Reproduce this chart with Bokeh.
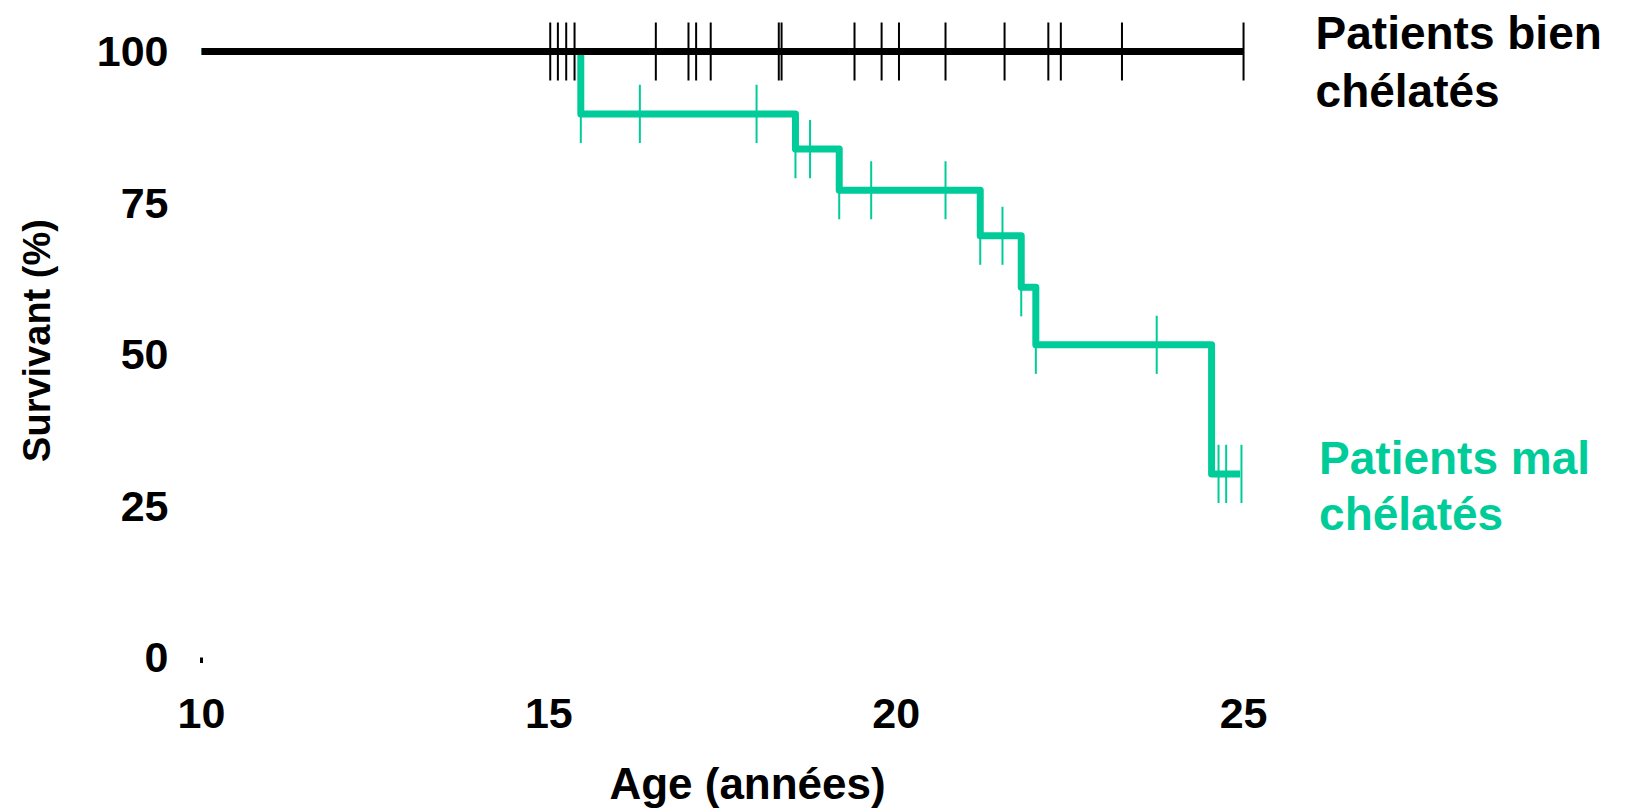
import numpy as np
from bokeh.plotting import figure
from bokeh.models import Label, FixedTicker, Range1d
from bokeh.layouts import column
from bokeh.core.properties import value
from bokeh.embed import file_html
from bokeh.resources import INLINE

# ---- data ----
age_ticks = [10, 15, 20, 25]
surv_ticks = [0, 25, 50, 75, 100]

# well-chelated patients: no events, censored ages
bien_start = 10.0
bien_end = 25.0
bien_level = 100.0
bien_censor = [15.02, 15.13, 15.25, 15.37, 16.54, 17.01, 17.12, 17.33, 18.31,
               18.35, 19.40, 19.79, 20.04, 20.71, 21.56, 22.19, 22.37, 23.25, 25.0]

# poorly-chelated patients: event ages and survival after each event
mal_event_age = [15.46, 18.55, 19.18, 21.21, 21.80, 22.01, 24.54]
mal_surv_after = [89.7, 83.9, 77.1, 69.6, 61.1, 51.6, 30.3]
mal_end = 24.95
mal_censor = [15.46, 16.31, 17.99, 18.55, 18.76, 19.18, 19.64, 20.71, 21.21,
              21.53, 21.80, 22.01, 23.75, 24.64, 24.75, 24.97]

x_title = "Age (années)"
y_title = "Survivant (%)"

GREEN = "#00CC99"
FONT = "Liberation Sans"
TICK_HALF = 4.8  # half length of censor marks, in % units

p = figure(width=1627, height=760, output_backend="svg", toolbar_location=None,
           x_range=Range1d(9.6977, 30.527), y_range=Range1d(-3.795, 108.416),
           min_border_left=180, min_border_right=0, min_border_top=0,
           min_border_bottom=80)
p.outline_line_color = None
p.grid.visible = False
p.background_fill_color = "white"
p.border_fill_color = "white"

# axes
for ax in (p.xaxis[0], p.yaxis[0]):
    ax.axis_line_color = None
    ax.major_tick_line_color = None
    ax.minor_tick_line_color = None
    ax.major_tick_out = 0
    ax.major_tick_in = 0
    ax.major_label_text_font = FONT
    ax.major_label_text_font_style = "bold"
    ax.major_label_text_font_size = "43px"
    ax.major_label_text_color = "black"
    ax.axis_label_text_font = FONT
    ax.axis_label_text_font_style = "bold"
    ax.axis_label_text_color = "black"

p.xaxis.ticker = FixedTicker(ticks=age_ticks)
p.yaxis.ticker = FixedTicker(ticks=surv_ticks)
p.xaxis.major_label_standoff = 18
p.yaxis.major_label_standoff = 12
p.yaxis.axis_label = y_title
p.yaxis.axis_label_text_font_size = "38px"
p.yaxis.axis_label_standoff = 36

# small origin mark
p.segment(x0=[age_ticks[0]], y0=[surv_ticks[0]], x1=[age_ticks[0]], y1=[surv_ticks[0] - 0.9],
          line_color="black", line_width=3)

# green curve: censor marks first, then thick step line
ev = np.array(mal_event_age)
lv = np.array(mal_surv_after)
mc = np.array(mal_censor)
idx = np.searchsorted(ev, mc + 1e-9, side="right")
levels = np.where(idx == 0, 100.0, lv[np.maximum(idx - 1, 0)])
p.segment(x0=mc, y0=levels - TICK_HALF, x1=mc, y1=levels + TICK_HALF,
          line_color=GREEN, line_width=2)

step_x = [bien_start] + mal_event_age + [mal_end]
step_y = [100.0] + mal_surv_after + [mal_surv_after[-1]]
p.step(x=step_x, y=step_y, mode="after", line_color=GREEN, line_width=7,
       line_join="round")

# black curve
bc = np.array(bien_censor)
p.segment(x0=bc, y0=bien_level - TICK_HALF, x1=bc, y1=bien_level + TICK_HALF,
          line_color="black", line_width=2)
p.line(x=[bien_start, bien_end], y=[bien_level, bien_level], line_color="black",
       line_width=7)

# curve labels
def lab(x, y, dx, dy, text, color):
    p.add_layout(Label(x=x, y=y, x_offset=dx, y_offset=dy, text=text,
                       text_font=FONT, text_font_style="bold",
                       text_font_size="46px", text_color=color,
                       text_align="left", text_baseline="alphabetic"))

lab(bien_end, bien_level, 72, 19, "Patients bien", "black")
lab(bien_end, bien_level, 72, -39, "chélatés", "black")
lab(mal_end, mal_surv_after[-1], 79, 16, "Patients mal", GREEN)
lab(mal_end, mal_surv_after[-1], 79, -40, "chélatés", GREEN)

# strip underneath holding the x axis title (shares the plot's age scale)
t = figure(width=1627, height=50, output_backend="svg", toolbar_location=None,
           x_range=p.x_range, y_range=Range1d(0, 1),
           x_axis_type=None, y_axis_type=None,
           min_border_left=180, min_border_right=0, min_border_top=0,
           min_border_bottom=0)
t.outline_line_color = None
t.grid.visible = False
t.text(x=[(age_ticks[0] + age_ticks[-1]) / 2], y=[0.54], text=[x_title],
       x_offset=25, text_font=value(FONT), text_font_style="bold",
       text_font_size="44px", text_color="black", text_align="center",
       text_baseline="alphabetic")

layout = column(p, t, spacing=0)
open("out.html", "w").write(file_html(layout, INLINE))
